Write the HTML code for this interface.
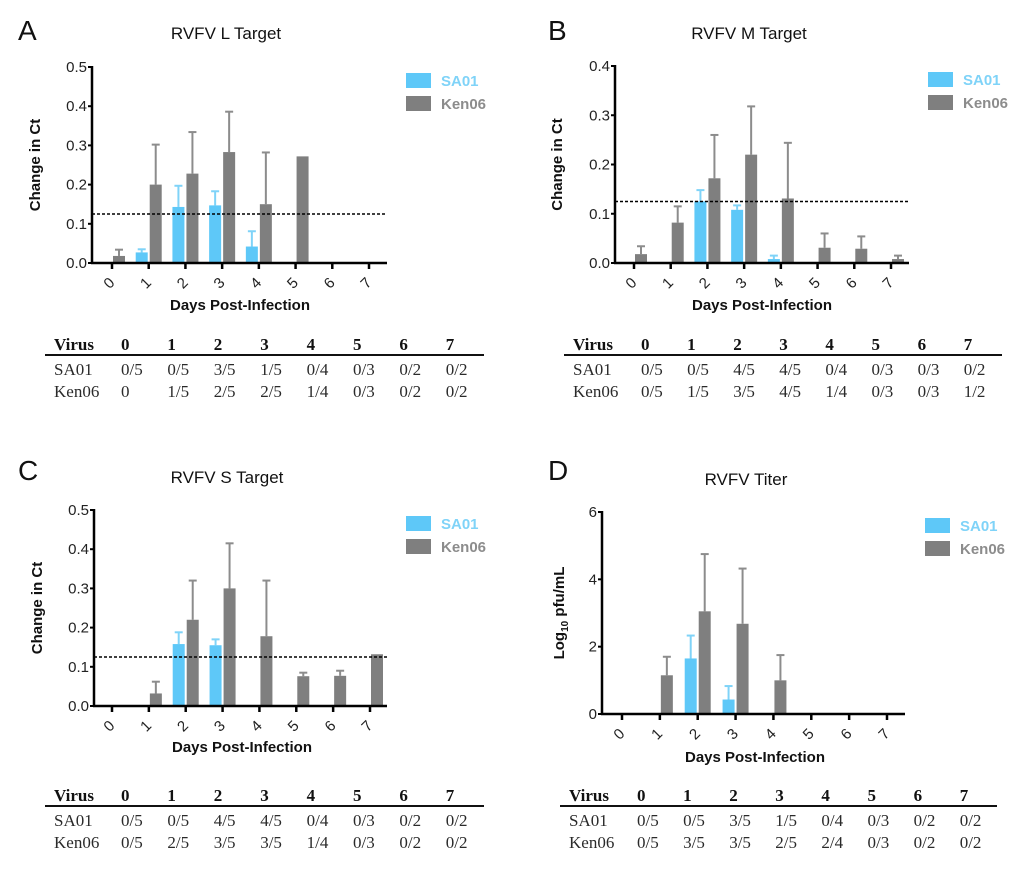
<!DOCTYPE html>
<html><head><meta charset="utf-8"><style>
html,body{margin:0;padding:0;background:#fff;}
svg{display:block;font-family:"Liberation Sans",Arial,sans-serif;}
.tbl{font-family:"Liberation Serif",serif;font-size:17px;fill:#2a2a2a;}
</style></head><body>
<svg id="fig" width="1024" height="869" viewBox="0 0 1024 869" xmlns="http://www.w3.org/2000/svg"></svg>
<script>
const days = ["0","1","2","3","4","5","6","7"];
const seriesNames = ["SA01","Ken06"];
// Panel A - RVFV L Target
const aSA01 = [0,0.027,0.143,0.147,0.042,0,0,0];
const aSA01Err = [0,0.035,0.197,0.183,0.081,0,0,0];
const aKen06 = [0.018,0.2,0.228,0.283,0.15,0.272,0,0];
const aKen06Err = [0.034,0.302,0.334,0.386,0.282,0.272,0,0];
const aTicks = ["0.0","0.1","0.2","0.3","0.4","0.5"];
const aTable = [["SA01","0/5","0/5","3/5","1/5","0/4","0/3","0/2","0/2"],["Ken06","0","1/5","2/5","2/5","1/4","0/3","0/2","0/2"]];
// Panel B - RVFV M Target
const bSA01 = [0,0,0.125,0.108,0.008,0,0,0];
const bSA01Err = [0,0,0.148,0.117,0.015,0,0,0];
const bKen06 = [0.018,0.082,0.172,0.22,0.131,0.031,0.029,0.008];
const bKen06Err = [0.034,0.115,0.26,0.318,0.244,0.06,0.054,0.015];
const bTicks = ["0.0","0.1","0.2","0.3","0.4"];
const bTable = [["SA01","0/5","0/5","4/5","4/5","0/4","0/3","0/3","0/2"],["Ken06","0/5","1/5","3/5","4/5","1/4","0/3","0/3","1/2"]];
// Panel C - RVFV S Target
const cSA01 = [0,0,0.158,0.155,0.002,0,0,0];
const cSA01Err = [0,0,0.188,0.17,0.002,0,0,0];
const cKen06 = [0,0.032,0.22,0.3,0.178,0.076,0.077,0.132];
const cKen06Err = [0,0.062,0.32,0.415,0.32,0.085,0.09,0.132];
const cTicks = ["0.0","0.1","0.2","0.3","0.4","0.5"];
const cTable = [["SA01","0/5","0/5","4/5","4/5","0/4","0/3","0/2","0/2"],["Ken06","0/5","2/5","3/5","3/5","1/4","0/3","0/2","0/2"]];
// Panel D - RVFV Titer
const dSA01 = [0,0,1.65,0.43,0,0,0,0];
const dSA01Err = [0,0,2.33,0.83,0,0,0,0];
const dKen06 = [0,1.15,3.05,2.68,1.0,0,0,0];
const dKen06Err = [0,1.7,4.75,4.32,1.75,0,0,0];
const dTicks = ["0","2","4","6"];
const dTable = [["SA01","0/5","0/5","3/5","1/5","0/4","0/3","0/2","0/2"],["Ken06","0/5","3/5","3/5","2/5","2/4","0/3","0/2","0/2"]];
const cutoff = 0.125;

const NS="http://www.w3.org/2000/svg";
const svg=document.getElementById('fig');
function mk(tag,attrs,parent,text){const e=document.createElementNS(NS,tag);for(const k in attrs)e.setAttribute(k,attrs[k]);if(text!==undefined)e.textContent=text;(parent||svg).appendChild(e);return e;}

function panel(o){
  const g=mk('g',{});
  
  
  const t=mk('text',{x:o.letterX,y:o.letterY,'font-size':28,fill:'#111'},g,o.letter);
  
  
  const ti=mk('text',{x:o.titleX,y:o.titleY,'font-size':17,'text-anchor':'middle',fill:'#111'},g,o.title);
  
  
  const ymax=o.ymax;
  const yS=v=>o.y0-(v/ymax)*(o.y0-o.yTop);
  const xS=i=>o.t0+i*(o.t7-o.t0)/7;
  o.ticks.forEach(lbl=>{
    const v=parseFloat(lbl);const y=yS(v);
    mk('line',{x1:o.ax-4,x2:o.ax,y1:y,y2:y,stroke:'#000','stroke-width':2},g);
    const tl=mk('text',{x:o.ax-5,y:y+5,'font-size':15,'text-anchor':'end',fill:'#222'},g,lbl);
    
    
  });
  const drawBar=(vals,errs,color,ecolor,x0,name)=>{
    vals.forEach((v,i)=>{
      const tx=xS(i);const y=yS(v);
      if(errs[i]>v){
        const ey=yS(errs[i]);
        mk('line',{x1:tx+x0+6,x2:tx+x0+6,y1:y,y2:ey,stroke:ecolor,'stroke-width':2},g);
        mk('line',{x1:tx+x0+2,x2:tx+x0+10,y1:ey,y2:ey,stroke:ecolor,'stroke-width':2},g);
      }
      if(v>0){
        const r=mk('rect',{x:tx+x0,y:y,width:12,height:o.y0-y,fill:color},g);
        
        
      }
    });
  };
  drawBar(o.s1,o.e1,'#5ec8f8','#7fd3f8',-13,'sa01');
  drawBar(o.s2,o.e2,'#7f7f7f','#8c8c8c',1,'ken06');
  if(o.cut){
    const cl=mk('line',{x1:o.ax,x2:o.right,y1:yS(cutoff),y2:yS(cutoff),stroke:'#000','stroke-width':1.5,'stroke-dasharray':'3,2'},g);
    
    
  }
  const ya=mk('line',{x1:o.ax,x2:o.ax,y1:o.yTop-1,y2:o.y0+1,stroke:'#000','stroke-width':2.5},g);
  
  
  const xa=mk('line',{x1:o.ax-1,x2:o.right,y1:o.y0,y2:o.y0,stroke:'#000','stroke-width':2.5},g);
  
  
  days.forEach((d,i)=>{
    const tx=xS(i);
    mk('line',{x1:tx,x2:tx,y1:o.y0,y2:o.y0+6,stroke:'#000','stroke-width':2.5},g);
    const xl=mk('text',{x:tx-3,y:o.y0+25,'font-size':15,'text-anchor':'middle',fill:'#222',transform:`rotate(-45 ${tx-3} ${o.y0+20})`},g,d);
    
    
  });
  const xt=mk('text',{x:o.xtX,y:o.xtY,'font-size':15,'font-weight':'bold','text-anchor':'middle',fill:'#111'},g,'Days Post-Infection');
  
  
  const yc=(o.y0+o.yTop)/2;
  const yt=mk('text',{x:o.ytX,y:yc,'font-size':15,'font-weight':'bold','text-anchor':'middle',fill:'#111',transform:`rotate(-90 ${o.ytX} ${yc})`},g);
  
  
  if(o.log){yt.appendChild(document.createTextNode('Log'));mk('tspan',{'font-size':10,dy:4},yt,'10');mk('tspan',{dy:-4},yt,' pfu/mL');}
  else yt.textContent='Change in Ct';
  [['#5ec8f8','#7fd3f8'],['#7f7f7f','#8c8c8c']].forEach((c,k)=>{
    const ly=o.legY+k*23;
    const sw=mk('rect',{x:o.legX,y:ly,width:25,height:15,fill:c[0]},g);
    
    
    const lt=mk('text',{x:o.legX+35,y:ly+13,'font-size':15,'font-weight':'bold',fill:c[1]},g,seriesNames[k]);
    
    
  });
  const tg=mk('g',{class:'tbl'},g);
  
  
  const cols=[o.tc0].concat(days.map((d,i)=>o.tc1+i*o.tcs));
  mk('text',{x:cols[0],y:o.th,'font-weight':'bold',fill:'#111'},tg,'Virus');
  days.forEach((d,i)=>mk('text',{x:cols[i+1],y:o.th,'font-weight':'bold',fill:'#111'},tg,d));
  mk('line',{x1:o.tl1,x2:o.tl2,y1:o.th+5,y2:o.th+5,stroke:'#111','stroke-width':2},tg);
  o.table.forEach((row,r)=>row.forEach((c,i)=>mk('text',{x:cols[i],y:o.th+25+r*22},tg,c)));
}
panel({letter:'A',letterX:18,letterY:40,title:'RVFV L Target',titleX:226,titleY:39,ax:92,right:387,y0:263,yTop:67,ymax:0.5,t0:112,t7:369,s1:aSA01,e1:aSA01Err,s2:aKen06,e2:aKen06Err,ticks:aTicks,cut:true,xtX:240,xtY:310,ytX:40,legX:406,legY:73,tc0:54,tc1:121,tcs:46.4,th:350,tl1:45,tl2:484,table:aTable});
panel({letter:'B',letterX:548,letterY:40,title:'RVFV M Target',titleX:749,titleY:39,ax:615,right:909,y0:263,yTop:66,ymax:0.4,t0:634,t7:891,s1:bSA01,e1:bSA01Err,s2:bKen06,e2:bKen06Err,ticks:bTicks,cut:true,xtX:762,xtY:310,ytX:562,legX:928,legY:72,tc0:573,tc1:641,tcs:46.1,th:350,tl1:564,tl2:1002,table:bTable});
panel({letter:'C',letterX:18,letterY:480,title:'RVFV S Target',titleX:227,titleY:483,ax:94,right:387,y0:706,yTop:510,ymax:0.5,t0:112,t7:370,s1:cSA01,e1:cSA01Err,s2:cKen06,e2:cKen06Err,ticks:cTicks,cut:true,xtX:242,xtY:752,ytX:42,legX:406,legY:516,tc0:54,tc1:121,tcs:46.4,th:801,tl1:45,tl2:484,table:cTable});
panel({letter:'D',letterX:548,letterY:480,title:'RVFV Titer',titleX:746,titleY:485,ax:602,right:905,y0:714,yTop:512,ymax:6,t0:622,t7:887,s1:dSA01,e1:dSA01Err,s2:dKen06,e2:dKen06Err,ticks:dTicks,cut:false,log:true,xtX:755,xtY:762,ytX:564,legX:925,legY:518,tc0:569,tc1:637,tcs:46.1,th:801,tl1:560,tl2:997,table:dTable});
</script>
</body></html>
